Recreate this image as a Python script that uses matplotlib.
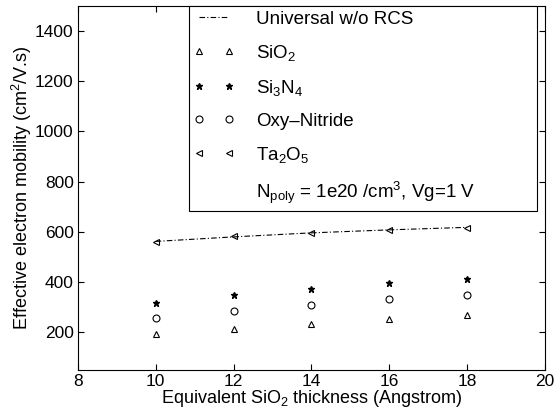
import matplotlib.pyplot as plt
from matplotlib.lines import Line2D

plt.rcParams['font.family'] = ['Liberation Sans', 'DejaVu Sans']
plt.rcParams['mathtext.default'] = 'regular'
plt.rcParams['font.size'] = 12.5

# data
thickness = [10, 12, 14, 16, 18]
universal = [562, 580, 596, 608, 618]
sio2 = [194, 212, 234, 254, 270]
si3n4 = [318, 347, 371, 397, 414]
oxy_nitride = [258, 283, 308, 331, 350]
ta2o5 = [561, 582, 595, 608, 615]

fig = plt.figure(figsize=(5.6, 4.19), dpi=100)
ax = fig.add_axes([0.139, 0.117, 0.834, 0.869])

l_uni, = ax.plot(thickness, universal, color='black', linestyle='-.', linewidth=0.8,
                 dashes=(5, 2, 1, 2), label='Universal w/o RCS')
l_sio2, = ax.plot(thickness, sio2, linestyle='none', marker='^', markersize=5,
                  markerfacecolor='none', markeredgecolor='black', markeredgewidth=0.8,
                  label='SiO$_2$')
l_si3n4, = ax.plot(thickness, si3n4, linestyle='none', marker='*', markersize=5,
                   color='black', label='Si$_3$N$_4$')
l_oxy, = ax.plot(thickness, oxy_nitride, linestyle='none', marker='o', markersize=5,
                 markerfacecolor='none', markeredgecolor='black', markeredgewidth=0.8,
                 label='Oxy\u2013Nitride')
l_ta, = ax.plot(thickness, ta2o5, linestyle='none', marker='<', markersize=5,
                markerfacecolor='none', markeredgecolor='black', markeredgewidth=0.8,
                label='Ta$_2$O$_5$')
blank = Line2D([], [], linestyle='none', marker='none')

ax.set_xlim(8, 20)
ax.set_ylim(50, 1500)
ax.set_xticks([8, 10, 12, 14, 16, 18, 20])
ax.set_yticks([200, 400, 600, 800, 1000, 1200, 1400])
ax.tick_params(direction='in', top=True, right=True, length=4, labelsize=12.5, pad=3)
ax.set_xlabel('Equivalent SiO$_2$ thickness (Angstrom)', fontsize=13, labelpad=-1)
ax.set_ylabel('Effective electron mobility (cm$^2$/V.s)', fontsize=13, labelpad=1)

leg = ax.legend([l_uni, l_sio2, l_si3n4, l_oxy, l_ta, blank],
                ['Universal w/o RCS', 'SiO$_2$', 'Si$_3$N$_4$', 'Oxy\u2013Nitride',
                 'Ta$_2$O$_5$', 'N$_{poly}$ = 1e20 /cm$^3$, Vg=1 V'],
                loc='upper left', bbox_to_anchor=(0.238, 0.0, 0.745, 1.0), mode='expand',
                numpoints=2, handlelength=2.2, handletextpad=1.15, labelspacing=0.8,
                borderpad=0.25, borderaxespad=0, fancybox=False, framealpha=1,
                edgecolor='black', fontsize=13.5)
leg.get_frame().set_linewidth(0.8)

fig.savefig('out.png', dpi=100)
